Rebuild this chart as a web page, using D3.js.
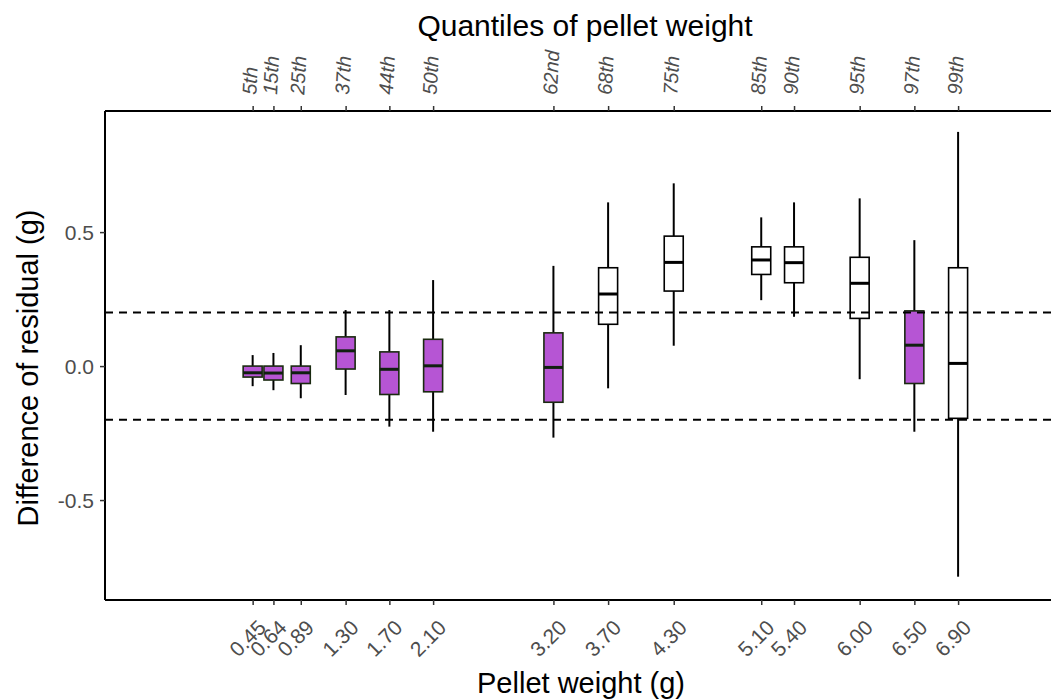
<!DOCTYPE html>
<html>
<head>
<meta charset="utf-8">
<script src="https://cdn.jsdelivr.net/npm/d3@7"></script>
<style>
  body { margin: 0; background: #fff; }
  svg { display: block; font-family: "Liberation Sans", Arial, sans-serif; }
</style>
</head>
<body>
<script>
var width = 1051,
    height = 700;

// data
var weights = [0.45, 0.64, 0.89, 1.30, 1.70, 2.10, 3.20, 3.70, 4.30, 5.10, 5.40, 6.00, 6.50, 6.90];
var quantiles = ['5th', '15th', '25th', '37th', '44th', '50th', '62nd', '68th', '75th', '85th', '90th', '95th', '97th', '99th'];
var whiskerLow  = [-0.075, -0.09, -0.12, -0.108, -0.226, -0.245, -0.267, -0.083, 0.076, 0.246, 0.184, -0.049, -0.245, -0.786];
var q1          = [-0.041, -0.052, -0.065, -0.011, -0.106, -0.096, -0.135, 0.156, 0.280, 0.342, 0.311, 0.178, -0.065, -0.195];
var medians     = [-0.025, -0.026, -0.025, 0.057, -0.012, 0.001, -0.005, 0.269, 0.387, 0.396, 0.386, 0.309, 0.078, 0.010];
var q3          = [0.0, 0.0, 0.0, 0.109, 0.053, 0.100, 0.124, 0.367, 0.485, 0.445, 0.445, 0.406, 0.206, 0.367];
var whiskerHigh = [0.041, 0.049, 0.078, 0.209, 0.209, 0.321, 0.374, 0.611, 0.682, 0.555, 0.611, 0.626, 0.470, 0.874];
var inRange     = [true, true, true, true, true, true, true, false, false, false, false, false, true, false];
var yTicks = [-0.5, 0.0, 0.5];
var refLines = [-0.2, 0.2];

var boxes = weights.map(function(w, i) {
  return {w: w, q: quantiles[i], lo: whiskerLow[i], q1: q1[i], med: medians[i],
          q3: q3[i], hi: whiskerHigh[i], fill: inRange[i]};
});

var pLeft = 105, pRight = 1062, pTop = 111, pBottom = 600;

var x = d3.scaleLinear().domain([-0.9, 7.85]).range([pLeft, pRight]);
var y = d3.scaleLinear().domain([-0.873, 0.952]).range([pBottom, pTop]);
var boxW = 19;
var font = '"Liberation Sans", Arial, sans-serif';

var svg = d3.select('body')
            .append('svg')
            .attr('width', width)
            .attr('height', height);

// boxes
var b = svg.append('g').selectAll('g.box').data(boxes).enter()
  .append('g').attr('class', 'box');

b.append('line')
  .attr('x1', d => x(d.w)).attr('x2', d => x(d.w))
  .attr('y1', d => y(d.hi)).attr('y2', d => y(d.q3))
  .attr('stroke', '#000').attr('stroke-width', 2);
b.append('line')
  .attr('x1', d => x(d.w)).attr('x2', d => x(d.w))
  .attr('y1', d => y(d.q1)).attr('y2', d => y(d.lo))
  .attr('stroke', '#000').attr('stroke-width', 2);
b.append('rect')
  .attr('x', d => x(d.w) - boxW / 2)
  .attr('width', boxW)
  .attr('y', d => y(d.q3))
  .attr('height', d => y(d.q1) - y(d.q3))
  .attr('fill', d => d.fill ? '#b655d4' : '#fff')
  .attr('stroke', d => d.fill ? '#1a2a10' : '#000')
  .attr('stroke-width', 1.6);
b.append('line')
  .attr('x1', d => x(d.w) - boxW / 2).attr('x2', d => x(d.w) + boxW / 2)
  .attr('y1', d => y(d.med)).attr('y2', d => y(d.med))
  .attr('stroke', d => d.fill ? '#102010' : '#000').attr('stroke-width', 3);

// dashed reference lines (drawn on top)
svg.selectAll('line.ref').data(refLines).enter().append('line')
  .attr('class', 'ref')
  .attr('x1', pLeft).attr('x2', width)
  .attr('y1', d => y(d)).attr('y2', d => y(d))
  .attr('stroke', '#000').attr('stroke-width', 2)
  .attr('stroke-dasharray', '8,6');

// axes
var yAxis = svg.append('g')
  .attr('transform', 'translate(' + pLeft + ',0)')
  .call(d3.axisLeft(y).tickValues(yTicks).tickFormat(d => d.toFixed(1)).tickSizeOuter(0).tickSize(5));
yAxis.select('.domain').attr('stroke-width', 2).attr('d', 'M0,' + pTop + 'V' + pBottom);
yAxis.selectAll('.tick line').attr('stroke', '#333').attr('stroke-width', 1.5);
yAxis.selectAll('.tick text').attr('font-size', 21).attr('fill', '#4d4d4d')
  .attr('font-family', font).attr('x', -11).attr('dy', '0.36em');

var xAxis = svg.append('g')
  .attr('transform', 'translate(0,' + pBottom + ')')
  .call(d3.axisBottom(x).tickValues(weights).tickFormat(d3.format('.2f')).tickSizeOuter(0).tickSize(5));
xAxis.select('.domain').attr('stroke-width', 2).attr('d', 'M' + pLeft + ',0H' + width);
xAxis.selectAll('.tick line').attr('stroke', '#333').attr('stroke-width', 1.5);
xAxis.selectAll('.tick text')
  .attr('font-size', 21).attr('fill', '#4d4d4d')
  .attr('font-family', font)
  .attr('text-anchor', 'end')
  .attr('dy', null).attr('y', null)
  .attr('transform', 'translate(14,29) rotate(-45)');

var topAxis = svg.append('g')
  .attr('transform', 'translate(0,' + pTop + ')')
  .call(d3.axisTop(x).tickValues(weights).tickFormat((d, i) => quantiles[i]).tickSizeOuter(0).tickSize(5));
topAxis.select('.domain').attr('stroke-width', 2).attr('d', 'M' + pLeft + ',0H' + width);
topAxis.selectAll('.tick line').attr('stroke', '#333').attr('stroke-width', 1.5);
topAxis.selectAll('.tick text')
  .attr('font-size', 20).attr('fill', '#4d4d4d')
  .attr('font-style', 'italic')
  .attr('font-family', font)
  .attr('text-anchor', 'start')
  .attr('dy', null).attr('y', null)
  .attr('transform', 'translate(3,-16) rotate(-87)');

// titles
svg.append('text')
  .attr('x', 585).attr('y', 36)
  .attr('text-anchor', 'middle')
  .attr('font-size', 30)
  .text('Quantiles of pellet weight');

svg.append('text')
  .attr('x', 581).attr('y', 693)
  .attr('text-anchor', 'middle')
  .attr('font-size', 29)
  .text('Pellet weight (g)');

svg.append('text')
  .attr('transform', 'translate(38,368) rotate(-90)')
  .attr('text-anchor', 'middle')
  .attr('font-size', 29)
  .text('Difference of residual (g)');
</script>
</body>
</html>
